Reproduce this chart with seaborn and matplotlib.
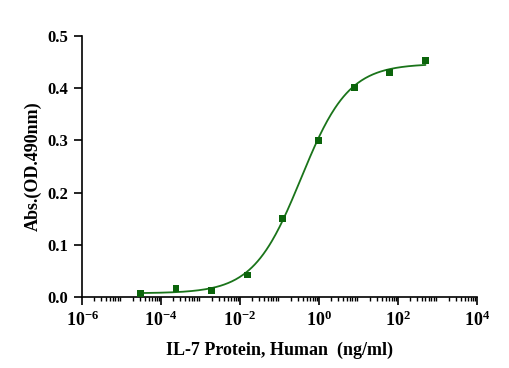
import numpy as np
import pandas as pd
import matplotlib
matplotlib.use("Agg")
import matplotlib.pyplot as plt
import matplotlib.ticker as mticker
import seaborn as sns

# ------------------------------
# Data
# ------------------------------
conc = [0.0000298, 0.000238, 0.0019, 0.0153, 0.122, 0.977, 7.81, 62.5, 500.0]
absorb = [0.007, 0.016, 0.013, 0.042, 0.151, 0.300, 0.402, 0.430, 0.453]

# 4PL fit parameters (bottom, top, EC50, hill)
fit_bottom = 0.007
fit_top = 0.447
fit_ec50 = 0.35
fit_hill = 0.72

x_ticks = [1e-6, 1e-4, 1e-2, 1e0, 1e2, 1e4]
y_ticks = [0.0, 0.1, 0.2, 0.3, 0.4, 0.5]

# ------------------------------
# Build tables
# ------------------------------
points = pd.DataFrame({"conc": conc, "abs": absorb})
x_fit = np.logspace(np.log10(min(conc)), np.log10(max(conc)), 300)
y_fit = fit_bottom + (fit_top - fit_bottom) / (1 + (fit_ec50 / x_fit) ** fit_hill)
curve = pd.DataFrame({"conc": x_fit, "abs": y_fit})

# ------------------------------
# Plot
# ------------------------------
sns.set_theme(style="ticks")
plt.rcParams["font.family"] = ["Liberation Serif", "DejaVu Serif"]
plt.rcParams["mathtext.fontset"] = "custom"
plt.rcParams["mathtext.rm"] = "Liberation Serif:bold"
plt.rcParams["mathtext.default"] = "rm"
plt.rcParams["text.color"] = "black"
plt.rcParams["axes.labelcolor"] = "black"

fig = plt.figure(figsize=(5.1, 3.68), dpi=100)
ax = fig.add_axes([0.161, 0.193, 0.774, 0.709])

sns.lineplot(data=curve, x="conc", y="abs", ax=ax, color="#1a741a", linewidth=1.3)
sns.scatterplot(data=points, x="conc", y="abs", ax=ax, marker="s", s=24,
                color="#0b640b", edgecolor="none", zorder=3)

ax.set_xscale("log")
ax.set_xlim(1e-6, 1e4)
ax.set_ylim(0, 0.5)
ax.xaxis.set_major_locator(mticker.FixedLocator(x_ticks))
ax.xaxis.set_minor_locator(mticker.LogLocator(base=10, subs=np.arange(2, 10), numticks=40))
ax.xaxis.set_major_formatter(mticker.FuncFormatter(
    lambda v, p: "$10^{%d}$" % int(round(np.log10(v)))))
ax.set_yticks(y_ticks)
ax.yaxis.set_major_formatter(mticker.FormatStrFormatter("%.1f"))

for lab in ax.get_yticklabels():
    lab.set_fontweight("bold")
ax.tick_params(axis="y", which="major", labelsize=12)
ax.tick_params(axis="x", which="major", labelsize=13)
ax.tick_params(axis="both", which="major", length=6, width=1.2,
               color="black", labelcolor="black", pad=4, direction="out")
ax.tick_params(axis="x", which="minor", length=3, width=1, color="black")

for side in ["top", "right"]:
    ax.spines[side].set_visible(False)
for side in ["left", "bottom"]:
    ax.spines[side].set_color("black")
    ax.spines[side].set_linewidth(1.2)

ax.set_xlabel("IL-7 Protein, Human  (ng/ml)", fontsize=13, fontweight="bold", labelpad=8)
ax.set_ylabel("Abs.(OD.490nm)", fontsize=13, fontweight="bold", labelpad=4)

plt.savefig("out.png", dpi=100, facecolor="white")
